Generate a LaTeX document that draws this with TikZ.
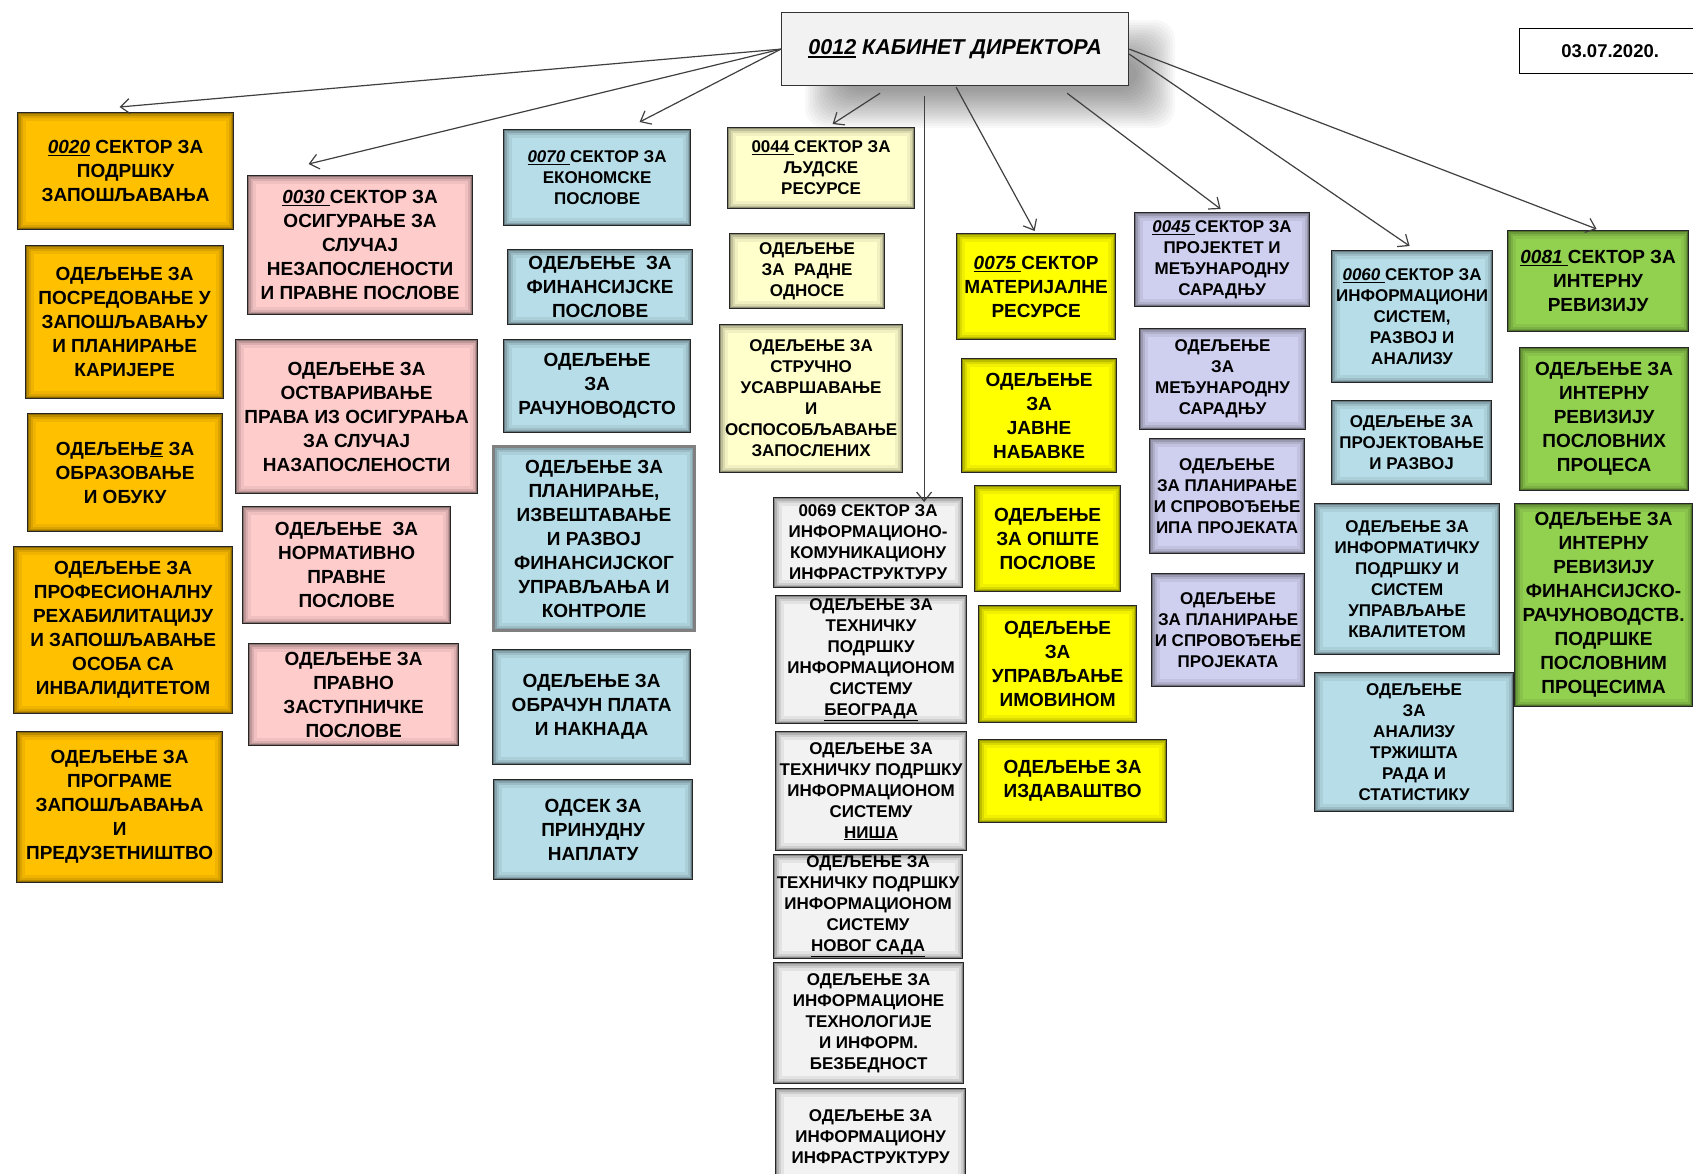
\documentclass[tikz,border=0pt]{standalone}
\usepackage{fontspec}
\setmainfont{Liberation Sans}
\usetikzlibrary{arrows.meta,calc}
\definecolor{corange}{HTML}{FFC000}
\definecolor{cpink}{HTML}{FFCCCC}
\definecolor{cblue}{HTML}{B7DEE8}
\definecolor{cpale}{HTML}{FFFFCC}
\definecolor{cgray}{HTML}{F2F2F2}
\definecolor{cyellow}{HTML}{FFFF00}
\definecolor{cviolet}{HTML}{CFCFEF}
\definecolor{cgreen}{HTML}{92D050}
\newcommand\bx[7]{\node[box,#2,minimum width={#5-#3},minimum height={#6-#4}] (#1) at (#3,#4) {#7};}
\newcommand\thickul[1]{{\setbox0\hbox{#1}\rlap{\raisebox{-4pt}{\rule{\wd0}{2.4pt}}}\box0}}
\begin{document}
\begin{tikzpicture}[x=1pt,y=-1pt,
  glow/.style={path picture={\foreach \w/\o in {16/0.06,10/0.09,6/0.13,2.5/0.25}{\draw[line width=\w pt,black,opacity=\o](path picture bounding box.south west) rectangle (path picture bounding box.north east);}}},
  box/.style={draw=black!85,line width=1.2pt,glow,inner sep=0pt,align=center,anchor=north west,text=black},
  big/.style={font=\fontsize{19}{24}\selectfont\bfseries},
  small/.style={font=\fontsize{17}{21}\selectfont\bfseries},
  og/.style={big,fill=corange},
  pk/.style={big,fill=cpink},
  bl/.style={big,fill=cblue},
  bls/.style={small,fill=cblue},
  pl/.style={small,fill=cpale},
  gr/.style={small,fill=cgray},
  ye/.style={big,fill=cyellow},
  vi/.style={small,fill=cviolet},
  gn/.style={big,fill=cgreen},
  conn/.style={draw=black!75,line width=1.2pt,-{Straight Barb[length=9pt,width=15pt,line width=1.2pt]}}]
\useasboundingbox (0,0) rectangle (1693,1173);
\fill[white] (0,0) rectangle (1693,1173);
% soft shadow of the top box
\foreach \k in {0,...,15}{\fill[black,opacity=0.028,rounded corners=20pt] (805+2.5*\k,20+2.5*\k) rectangle (1175-2.5*\k,128-2.5*\k);}
\node[draw=black!80,line width=1.2pt,fill=cgray,anchor=north west,minimum width=347,minimum height=73,inner sep=0pt,
  font=\fontsize{21.5}{26}\selectfont\bfseries\itshape] (top) at (781,12) {\thickul{0012} КАБИНЕТ ДИРЕКТОРА};
\node[draw=black,line width=1.2pt,fill=white,anchor=north west,minimum width=181,minimum height=45,inner sep=0pt,
  font=\fontsize{18.5}{22}\selectfont\bfseries] (date) at (1519,28) {03.07.2020.};
% orange
\bx{b0020}{og}{17}{112}{233}{229}{\underline{\textit{0020}} СЕКТОР ЗА\\ПОДРШКУ\\ЗАПОШЉАВАЊА}
\bx{bposr}{og}{25}{245}{223}{398}{ОДЕЉЕЊЕ ЗА\\ПОСРЕДОВАЊЕ У\\ЗАПОШЉАВАЊУ\\И ПЛАНИРАЊЕ\\КАРИЈЕРЕ}
\bx{bobr}{og}{27}{413}{222}{531}{ОДЕЉЕЊ\underline{\textit{Е}} ЗА\\ОБРАЗОВАЊЕ\\И ОБУКУ}
\bx{bprof}{og}{13}{546}{232}{713}{ОДЕЉЕЊЕ ЗА\\ПРОФЕСИОНАЛНУ\\РЕХАБИЛИТАЦИЈУ\\И ЗАПОШЉАВАЊЕ\\ОСОБА СА\\ИНВАЛИДИТЕТОМ}
\bx{bprog}{og}{16}{731}{222}{882}{ОДЕЉЕЊЕ ЗА\\ПРОГРАМЕ\\ЗАПОШЉАВАЊА\\И\\ПРЕДУЗЕТНИШТВО}
% pink
\bx{b0030}{pk}{247}{175}{472}{314}{\underline{\textit{0030}\ }СЕКТОР ЗА\\ОСИГУРАЊЕ ЗА\\СЛУЧАЈ\\НЕЗАПОСЛЕНОСТИ\\И ПРАВНЕ ПОСЛОВЕ}
\bx{bostv}{pk}{235}{339}{477}{493}{ОДЕЉЕЊЕ ЗА\\ОСТВАРИВАЊЕ\\ПРАВА ИЗ ОСИГУРАЊА\\ЗА СЛУЧАЈ\\НАЗАПОСЛЕНОСТИ}
\bx{bnorm}{pk}{242}{506}{450}{623}{ОДЕЉЕЊЕ\ \ ЗА\\НОРМАТИВНО\\ПРАВНЕ\\ПОСЛОВЕ}
\bx{bprav}{pk}{248}{643}{458}{745}{ОДЕЉЕЊЕ ЗА\\ПРАВНО\\ЗАСТУПНИЧКЕ\\ПОСЛОВЕ}
% blue, economic
\bx{b0070}{bls}{503}{129}{690}{225}{\underline{\textit{0070}\ }СЕКТОР ЗА\\ЕКОНОМСКЕ\\ПОСЛОВЕ}
\bx{bfin}{bl}{507}{249}{692}{324}{ОДЕЉЕЊЕ\ \ ЗА\\ФИНАНСИЈСКЕ\\ПОСЛОВЕ}
\bx{brac}{bl}{503}{339}{690}{432}{ОДЕЉЕЊЕ\\ЗА\\РАЧУНОВОДСТО}
\bx{bplan}{bl,draw=black!50,line width=3pt}{492}{445}{693}{629}{ОДЕЉЕЊЕ ЗА\\ПЛАНИРАЊЕ,\\ИЗВЕШТАВАЊЕ\\И РАЗВОЈ\\ФИНАНСИЈСКОГ\\УПРАВЉАЊА И\\КОНТРОЛЕ}
\bx{bobrac}{bl}{492}{649}{690}{764}{ОДЕЉЕЊЕ ЗА\\ОБРАЧУН ПЛАТА\\И НАКНАДА}
\bx{bodsek}{bl}{493}{779}{692}{879}{ОДСЕК ЗА\\ПРИНУДНУ\\НАПЛАТУ}
% pale yellow
\bx{b0044}{pl}{727}{127}{914}{208}{\underline{0044\ }СЕКТОР ЗА\\ЉУДСКЕ\\РЕСУРСЕ}
\bx{brad}{pl}{729}{233}{884}{308}{ОДЕЉЕЊЕ\\ЗА\ \ РАДНЕ\\ОДНОСЕ}
\bx{bstr}{pl}{719}{324}{902}{472}{ОДЕЉЕЊЕ ЗА\\СТРУЧНО\\УСАВРШАВАЊЕ\\И\\ОСПОСОБЉАВАЊЕ\\ЗАПОСЛЕНИХ}
% gray
\bx{b0069}{gr}{773}{497}{962}{587}{0069 СЕКТОР ЗА\\ИНФОРМАЦИОНО-\\КОМУНИКАЦИОНУ\\ИНФРАСТРУКТУРУ}
\bx{bbg}{gr}{775}{595}{966}{723}{ОДЕЉЕЊЕ ЗА\\ТЕХНИЧКУ\\ПОДРШКУ\\ИНФОРМАЦИОНОМ\\СИСТЕМУ\\\underline{БЕОГРАДА}}
\bx{bnis}{gr}{775}{731}{966}{850}{ОДЕЉЕЊЕ ЗА\\ТЕХНИЧКУ ПОДРШКУ\\ИНФОРМАЦИОНОМ\\СИСТЕМУ\\\underline{НИША}}
\bx{bns}{gr}{773}{854}{962}{958}{ОДЕЉЕЊЕ ЗА\\ТЕХНИЧКУ ПОДРШКУ\\ИНФОРМАЦИОНОМ\\СИСТЕМУ\\\underline{НОВОГ САДА}}
\bx{bit}{gr}{773}{962}{963}{1083}{ОДЕЉЕЊЕ ЗА\\ИНФОРМАЦИОНЕ\\ТЕХНОЛОГИЈЕ\\И ИНФОРМ.\\БЕЗБЕДНОСТ}
\bx{binf}{gr}{775}{1088}{965}{1185}{ОДЕЉЕЊЕ ЗА\\ИНФОРМАЦИОНУ\\ИНФРАСТРУКТУРУ}
% yellow
\bx{b0075}{ye}{956}{233}{1115}{339}{\underline{\textit{0075}\ }СЕКТОР\\МАТЕРИЈАЛНЕ\\РЕСУРСЕ}
\bx{bjav}{ye}{961}{358}{1116}{472}{ОДЕЉЕЊЕ\\ЗА\\ЈАВНЕ\\НАБАВКЕ}
\bx{bops}{ye}{974}{485}{1120}{591}{ОДЕЉЕЊЕ\\ЗА ОПШТЕ\\ПОСЛОВЕ}
\bx{bupr}{ye}{978}{605}{1136}{722}{ОДЕЉЕЊЕ\\ЗА\\УПРАВЉАЊЕ\\ИМОВИНОМ}
\bx{bizd}{ye}{978}{739}{1166}{822}{ОДЕЉЕЊЕ ЗА\\ИЗДАВАШТВО}
% violet
\bx{b0045}{vi}{1134}{212}{1309}{306}{\underline{\textit{0045}\ }СЕКТОР ЗА\\ПРОЈЕКТЕТ И\\МЕЂУНАРОДНУ\\САРАДЊУ}
\bx{bmedj}{vi}{1139}{328}{1305}{429}{ОДЕЉЕЊЕ\\ЗА\\МЕЂУНАРОДНУ\\САРАДЊУ}
\bx{bipa}{vi}{1149}{438}{1304}{553}{ОДЕЉЕЊЕ\\ЗА ПЛАНИРАЊЕ\\И СПРОВОЂЕЊЕ\\ИПА ПРОЈЕКАТА}
\bx{bproj}{vi}{1151}{573}{1304}{686}{ОДЕЉЕЊЕ\\ЗА ПЛАНИРАЊЕ\\И СПРОВОЂЕЊЕ\\ПРОЈЕКАТА}
% blue, IT
\bx{b0060}{bls}{1331}{250}{1492}{382}{\underline{\textit{0060}\ }СЕКТОР ЗА\\ИНФОРМАЦИОНИ\\СИСТЕМ,\\РАЗВОЈ И\\АНАЛИЗУ}
\bx{bprojr}{bls}{1331}{400}{1491}{484}{ОДЕЉЕЊЕ ЗА\\ПРОЈЕКТОВАЊЕ\\И РАЗВОЈ}
\bx{binfm}{bls}{1314}{503}{1499}{654}{ОДЕЉЕЊЕ ЗА\\ИНФОРМАТИЧКУ\\ПОДРШКУ И\\СИСТЕМ\\УПРАВЉАЊЕ\\КВАЛИТЕТОМ}
\bx{banal}{bls}{1314}{672}{1513}{811}{ОДЕЉЕЊЕ\\ЗА\\АНАЛИЗУ\\ТРЖИШТА\\РАДА И\\СТАТИСТИКУ}
% green
\bx{b0081}{gn}{1507}{230}{1688}{331}{\underline{\textit{0081}\ }СЕКТОР ЗА\\ИНТЕРНУ\\РЕВИЗИЈУ}
\bx{bintp}{gn}{1519}{347}{1688}{490}{ОДЕЉЕЊЕ ЗА\\ИНТЕРНУ\\РЕВИЗИЈУ\\ПОСЛОВНИХ\\ПРОЦЕСА}
\bx{bintf}{gn}{1514}{503}{1692}{706}{ОДЕЉЕЊЕ ЗА\\ИНТЕРНУ\\РЕВИЗИЈУ\\ФИНАНСИЈСКО-\\РАЧУНОВОДСТВ.\\ПОДРШКЕ\\ПОСЛОВНИМ\\ПРОЦЕСИМА}
% connectors
\draw[conn] (top.west) -- ($(b0020.north)+(-6,-5)$);
\draw[conn] (top.west) -- ($(b0030.north)+(-51.5,-11)$);
\draw[conn] (top.west) -- ($(b0070.north)+(42.5,-7)$);
\draw[conn] ($(top.south)+(-75,7)$) -- ($(b0044.north)+(11.5,-3)$);
\draw[conn] ($(top.south)+(-31,10)$) -- ($(b0069.north)+(56,5)$);
\draw[conn] ($(top.south)+(1,1)$) -- ($(b0075.north)+(-1.5,-2)$);
\draw[conn] ($(top.south)+(112,7)$) -- ($(b0045.north)+(-1.5,-3)$);
\draw[conn] ($(top.east)+(0,5)$) -- ($(b0060.north)+(-2.5,-4)$);
\draw[conn] (top.east) -- ($(b0081.north)+(-1.5,-1)$);
\end{tikzpicture}
\end{document}
